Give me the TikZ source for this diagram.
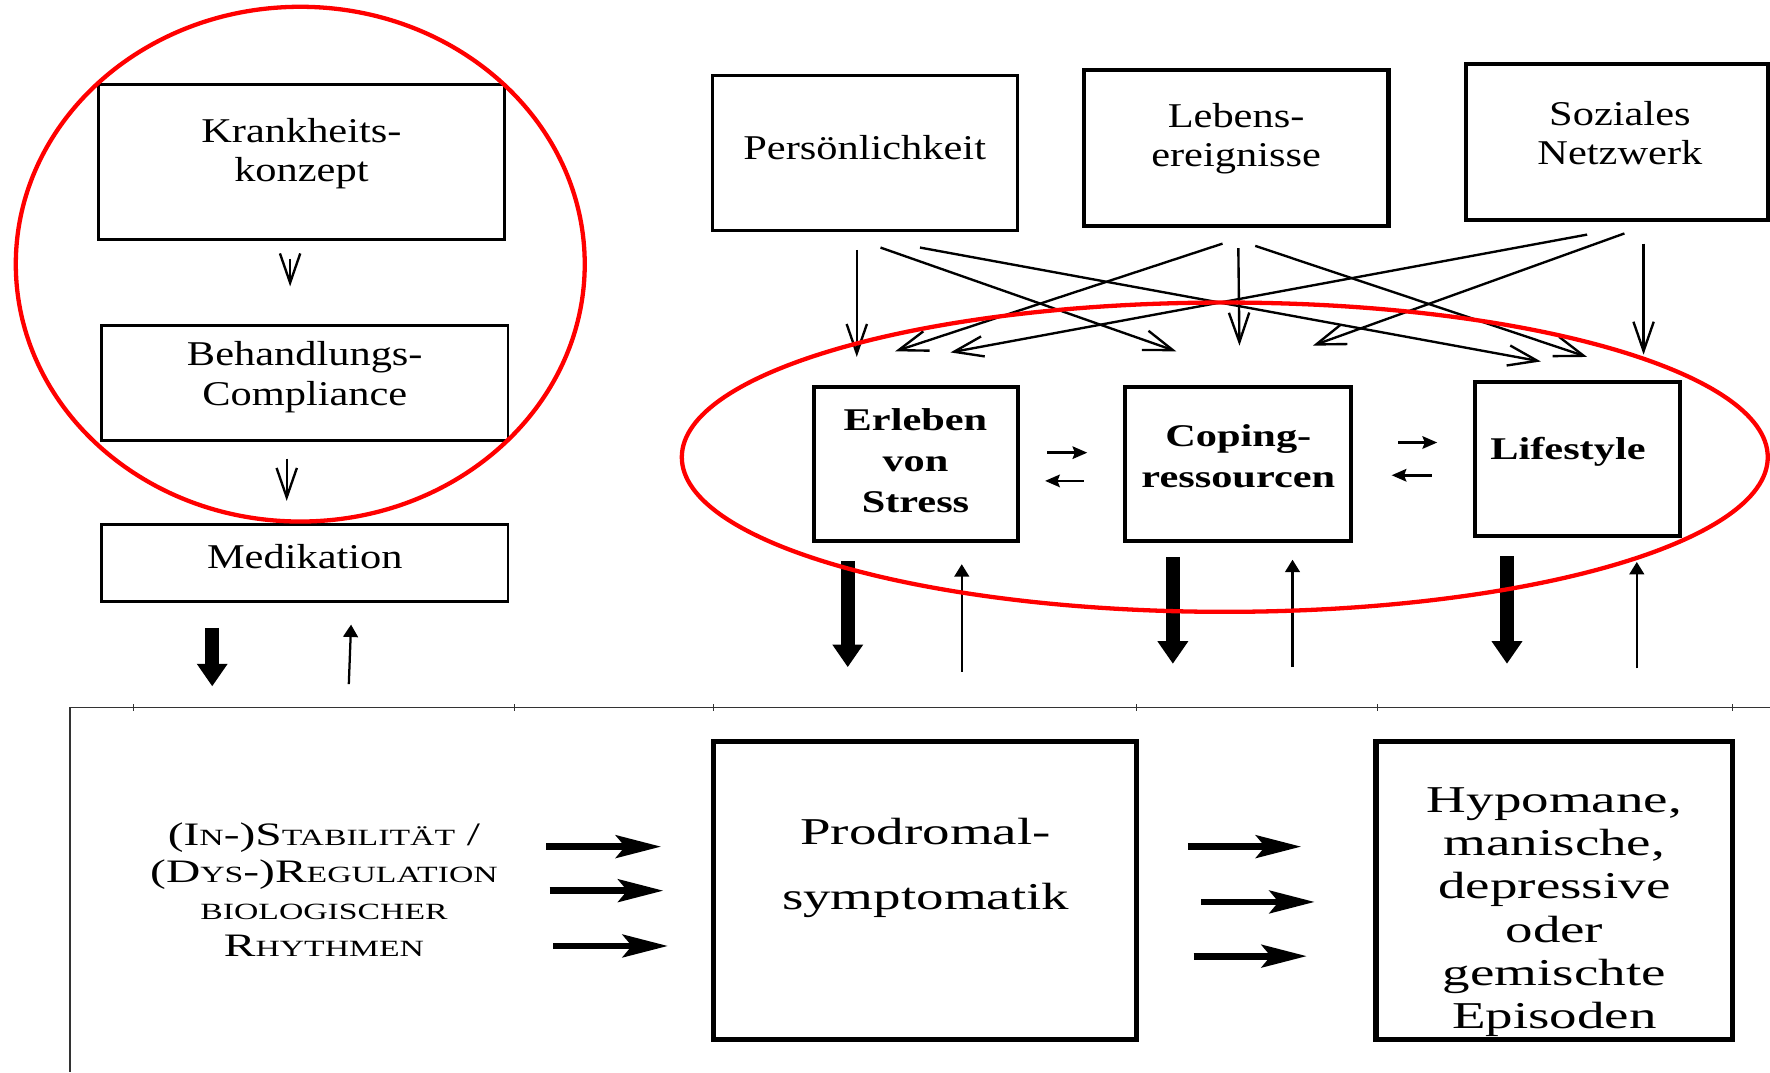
\documentclass[tikz,border=0pt]{standalone}
\usepackage{fontspec}
\usetikzlibrary{arrows.meta, calc, fit}
\newfontfamily\boxfont[FakeStretch=1.22]{Liberation Serif}
\newfontfamily\boldfont[FakeStretch=1.34]{Liberation Serif}
\newfontfamily\bigfont[FakeStretch=1.45]{Liberation Serif}
\newcommand\lowcap[1]{{\fontsize{10.3pt}{16.5pt}\selectfont #1}}

\begin{document}
\begin{tikzpicture}[
	x=0.5pt, y=-0.5pt,
	box/.style={draw, line width=1.3pt, inner sep=0pt},
	heavybox/.style={box, line width=1.8pt},
	bigbox/.style={box, line width=2.3pt},
	txt/.style={align=center, inner sep=0pt, font=\boxfont\fontsize{15.4pt}{17.5pt}\selectfont},
	boldtxt/.style={align=center, inner sep=0pt, font=\boldfont\bfseries\fontsize{14pt}{18.3pt}\selectfont},
	bigtxt/.style={align=center, inner sep=0pt, font=\bigfont\fontsize{16.8pt}{19.2pt}\selectfont},
	ring/.style={red, line width=1.9pt},
	rim/.style={black!80, line width=0.6pt},
	thin/.style={-{Straight Barb[length=13pt,width=9pt]}, line width=1.05pt},
	swap/.style={-{Stealth[length=6.5pt,width=5.5pt,inset=1pt]}, line width=1.2pt},
	fat/.style={-{Triangle[length=10pt,width=13pt]}, line width=6pt},
	up/.style={-{Triangle[length=5.5pt,width=6.5pt]}, line width=1pt},
	flow/.style={-{Stealth[length=20pt,width=10pt,inset=4pt]}, line width=3pt}
	]
	
	\useasboundingbox (0,0) rectangle (1568,950);
	
	% left column
	\node[box, fit={(87,75) (447,212)}] (krank) {};
	\node[txt] (krankT) at (267,136) {Krankheits-\\konzept};
	\node[box, fit={(90,288) (450,390)}] (behand) {};
	\node[txt] (behandT) at (270,334) {Behandlungs-\\Compliance};
	\node[box, fit={(90,465) (450,533)}] (medik) {};
	\node[txt] (medikT) at (270,493) {Medikation};
	
	% influences
	\node[box, fit={(631,67) (901,204)}] (pers) {};
	\node[txt] (persT) at (766,131) {Persönlichkeit};
	\node[heavybox, fit={(960,62) (1230,200)}] (lebens) {};
	\node[txt] (lebensT) at (1095,123) {Lebens-\\ereignisse};
	\node[heavybox, fit={(1299,57) (1566,195)}] (sozial) {};
	\node[txt] (sozialT) at (1435,118) {Soziales\\Netzwerk};
	
	\node[heavybox, fit={(721,343) (902,479)}] (erleben) {};
	\node[boldtxt] (erlebenT) at (811,408) {Erleben\\von\\Stress};
	\node[heavybox, fit={(997,343) (1197,479)}] (coping) {};
	\node[boldtxt] (copingT) at (1097,404) {Coping-\\ressourcen};
	\node[heavybox, fit={(1307,338) (1488,475)}] (life) {};
	\node[boldtxt] (lifeT) at (1389,400) {Lifestyle};
	
	% bottom row
	\coordinate (base) at (62,627);
	\draw[rim] (1568,627) -- (base) -- (62,950);
	\foreach \t in {118,456,632,1007,1220,1535}
		\draw[rim] (\t,624) -- (\t,630);
	
	\node[bigtxt, font=\bigfont\fontsize{14.5pt}{16.5pt}\selectfont] (rhythm) at (287,788)
		{(I\lowcap{N}-)S\lowcap{TABILITÄT} /\\(D\lowcap{YS}-)R\lowcap{EGULATION}\\\lowcap{BIOLOGISCHER}\\R\lowcap{HYTHMEN}};
	\node[bigbox, fit={(632,657) (1007,921)}] (prodr) {};
	\node[bigtxt, font=\bigfont\fontsize{16.8pt}{28.5pt}\selectfont] (prodrT) at (820,769) {Prodromal-\\symptomatik};
	\node[bigbox, fit={(1219,657) (1535,921)}] (episod) {};
	\node[bigtxt] (episodT) at (1377,808) {Hypomane,\\manische,\\depressive\\oder\\gemischte\\Episoden};
	
	% arrows
	\draw[thin] ($(krank.south)+(-10,16)$) -- ($(behand.north)+(-13,-33)$);
	\draw[thin] ($(behand.south)+(-16,15)$) -- ($(medik.north)+(-16,-20)$);
	\draw[fat] ($(medik.south)+(-82,22)$) -- ($(medik.south |- base)+(-82,-19)$);
	\draw[up] ($(medik.south |- base)+(39,-21)$) -- ($(medik.south)+(41,19)$);
	
	\draw[thin] ($(pers.south)+(-7,16)$) -- ($(erleben.north)+(-52.5,-25)$);
	\draw[thin] ($(pers.south)+(14,14)$) -- ($(coping.north)+(-55,-30)$);
	\draw[thin] ($(pers.south)+(49,14)$) -- ($(life.north)+(-32.5,-16)$);
	\draw[thin] ($(lebens.south)+(-12,14)$) -- ($(erleben.north)+(-18.5,-30)$);
	\draw[thin] ($(lebens.south)+(2,18)$) -- ($(coping.north)+(1,-35)$);
	\draw[thin] ($(lebens.south)+(17,16)$) -- ($(life.north)+(8.5,-20)$);
	\draw[thin] ($(sozial.south)+(-26.5,11)$) -- ($(erleben.north)+(30.5,-29)$);
	\draw[thin] ($(sozial.south)+(6.5,10)$) -- ($(coping.north)+(66,-35)$);
	\draw[thin] ($(sozial.south)+(23.5,19)$) -- ($(life.north)+(58.5,-22)$);
	
	\draw[swap] ($(erleben.east)+(24,-10)$) -- ($(coping.west)+(-32,-10)$);
	\draw[swap] ($(coping.west)+(-35,15)$) -- ($(erleben.east)+(22,15)$);
	\draw[swap] ($(coping.east)+(40,-19)$) -- ($(life.west)+(-32,-14.5)$);
	\draw[swap] ($(life.west)+(-37,14.5)$) -- ($(coping.east)+(34,10)$);
	
	\draw[fat] ($(erleben.south)+(-60.5,16)$) -- ($(erleben.south |- base)+(-60.5,-36)$);
	\draw[up] ($(erleben.south |- base)+(40.5,-32)$) -- ($(erleben.south)+(40.5,19)$);
	\draw[fat] ($(coping.south)+(-58,13)$) -- ($(coping.south |- base)+(-58,-39)$);
	\draw[up] ($(coping.south |- base)+(48,-36)$) -- ($(coping.south)+(48,15)$);
	\draw[fat] ($(life.south)+(-62.5,16)$) -- ($(life.south |- base)+(-62.5,-39)$);
	\draw[up] ($(life.south |- base)+(52.5,-35)$) -- ($(life.south)+(52.5,21)$);
	
	\draw[flow] ($(rhythm)+(197,-38)$) -- ($(prodr.west)+(-44,-39)$);
	\draw[flow] ($(rhythm)+(200,1)$) -- ($(prodr.west)+(-42,0)$);
	\draw[flow] ($(rhythm)+(203,50)$) -- ($(prodr.west)+(-38,49)$);
	\draw[flow] ($(prodr.east)+(43,-39)$) -- ($(episod.west)+(-64,-39)$);
	\draw[flow] ($(prodr.east)+(55,10)$) -- ($(episod.west)+(-52,10)$);
	\draw[flow] ($(prodr.east)+(48,58)$) -- ($(episod.west)+(-59,58)$);
	
	% marked groups
	\draw[ring] (266,234) ellipse [x radius=252, y radius=228];
	\draw[ring] (1085,405) ellipse [x radius=481, y radius=137];
	
\end{tikzpicture}
\end{document}
